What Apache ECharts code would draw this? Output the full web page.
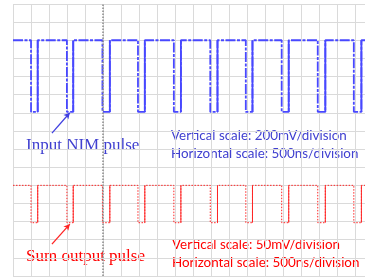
<!DOCTYPE html>
<html>
<head>
<meta charset="utf-8">
<script src="https://cdn.jsdelivr.net/npm/echarts@6/dist/echarts.min.js"></script>
<style>html,body{margin:0;padding:0;background:#fff}#c{width:365px;height:277px}</style>
</head>
<body>
<div id="c"></div>
<script>
// time in ns (500 ns / division), vertical position in screen divisions
const fallEdges = [500, 1495, 2480, 3465, 4460, 5470, 6455, 7450, 8450, 9450];
const riseEdges = [685, 1670, 2685, 3655, 4655, 5670, 6640, 7645, 8660, 9660];
const xEnd = 9760;
const inputHigh = 13.0, inputLow = 9.05;
const sumHigh = 5.0, sumLow = 2.94;
const centerTime = 2500;
const labels = {
  inputName: 'Input NIM pulse',
  inputV: 'Vertical scale: 200mV/division',
  inputH: 'Horizontal scale: 500ns/division',
  sumName: 'Sum output pulse',
  sumV: 'Vertical scale: 50mV/division',
  sumH: 'Horizontal scale: 500ns/division'
};

function pulseTrain(high, low) {
  const d = [[0, high]];
  for (let i = 0; i < fallEdges.length; i++) {
    d.push([fallEdges[i], high], [fallEdges[i], low], [riseEdges[i], low], [riseEdges[i], high]);
  }
  d.push([xEnd, high]);
  return d;
}
function risingSegs(high, low) {
  const d = [];
  for (let i = 0; i < riseEdges.length; i++) {
    d.push([riseEdges[i], low], [riseEdges[i], high], null);
  }
  return d;
}
const blue = '#4848ff', red = '#ff2424';
const blueText = '#4040d0', redText = '#ff0000';

const chart = echarts.init(document.getElementById('c'), null, {renderer: 'canvas'});
chart.setOption({
  animation: false,
  backgroundColor: '#fff',
  grid: {left: 13, top: 4, right: 0, height: 272},
  xAxis: {type: 'value', min: 0, max: xEnd, interval: 500,
    axisLine: {show: false}, axisTick: {show: false}, axisLabel: {show: false},
    splitLine: {show: true, lineStyle: {color: '#dadada', width: 1}}},
  yAxis: {type: 'value', min: 0, max: 15, interval: 1,
    axisLine: {show: false}, axisTick: {show: false}, axisLabel: {show: false},
    splitLine: {show: true, lineStyle: {color: '#dadada', width: 1}}},
  series: [
    {type: 'line', data: pulseTrain(inputHigh, inputLow), symbol: 'none',
      lineStyle: {color: blue, width: 1.8, type: [10, 1.5, 3, 1.5]},
      markLine: {silent: true, symbol: 'none', label: {show: false},
        lineStyle: {color: '#8a8a8a', width: 1.5, type: [1.5, 1.5]},
        data: [{xAxis: centerTime}]}},
    {type: 'line', data: risingSegs(inputHigh, inputLow), symbol: 'none', connectNulls: false,
      lineStyle: {color: blue, width: 1.8}},
    {type: 'line', data: pulseTrain(sumHigh, sumLow), symbol: 'none',
      lineStyle: {color: red, width: 1, type: [1.5, 1.5]},
      markLine: {silent: true, symbol: ['none', 'arrow'], symbolSize: [5, 6], label: {show: false},
        data: [
          [{coord: [1080, 7.88], lineStyle: {color: '#4040e0', width: 1.3, type: 'solid'}}, {coord: [1575, 9.0]}],
          [{coord: [1080, 1.76], lineStyle: {color: red, width: 1.3, type: 'solid'}}, {coord: [1575, 2.86]}]
        ]}},
    {type: 'line', data: risingSegs(sumHigh, sumLow), symbol: 'none', connectNulls: false,
      lineStyle: {color: red, width: 1}}
  ],
  graphic: [
    {type: 'text', left: 26, top: 137, style: {text: labels.inputName, font: '17px "Liberation Serif"', fill: blueText}},
    {type: 'text', left: 171, top: 129, style: {text: labels.inputV, font: '13.4px Lato', fill: blueText}},
    {type: 'text', left: 171, top: 147, style: {text: labels.inputH, font: '13.4px Lato', fill: blueText}},
    {type: 'text', left: 26, top: 248, style: {text: labels.sumName, font: '17px "Liberation Serif"', fill: redText}},
    {type: 'text', left: 172, top: 238, style: {text: labels.sumV, font: '13.4px Lato', fill: redText}},
    {type: 'text', left: 172, top: 256, style: {text: labels.sumH, font: '13.4px Lato', fill: redText}}
  ]
});
</script>
</body>
</html>
